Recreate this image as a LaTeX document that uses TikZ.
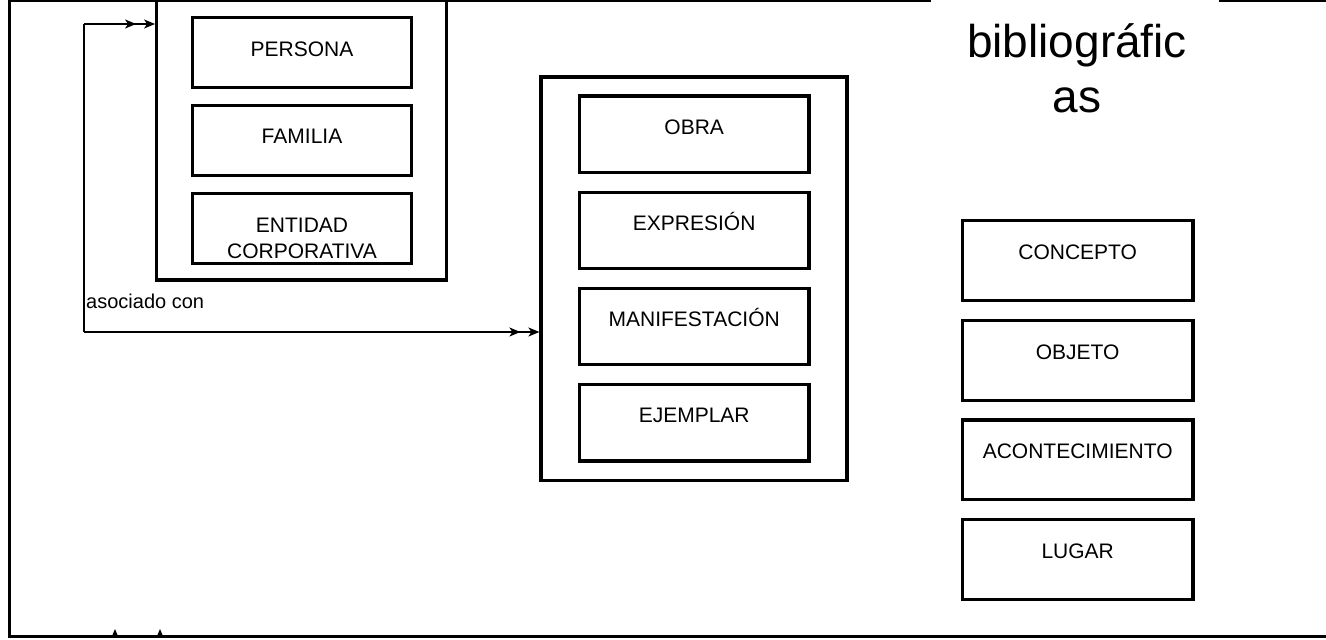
\documentclass[tikz,border=0pt]{standalone}
\usepackage{fontspec}
\setmainfont{Liberation Sans}
\usetikzlibrary{arrows.meta}
\begin{document}
\begin{tikzpicture}[x=1pt,y=-1pt,
  marco/.style={line width=3pt},
  grupo/.style={draw, line width=3.2pt, inner sep=0pt},
  entidad/.style={draw, line width=3.2pt, inner sep=0pt, label={[etiqueta]north:#1}},
  etiqueta/.style={anchor=base, yshift=-40pt, align=center, inner sep=0pt,
    font=\fontsize{21}{26}\selectfont},
  dos lineas/.style={label={[etiqueta, yshift=-26pt]north:#1}},
  izq/.style={draw, line width=3.2pt, inner sep=0pt, minimum width=219pt, minimum height=70pt},
  cen/.style={entidad=#1, minimum width=229.5pt, minimum height=76.5pt},
  der/.style={entidad=#1, minimum width=230.7pt, minimum height=79.5pt},
  enlace/.style={line width=1.6pt},
  doble/.style={line width=1.6pt,
    -{Stealth[length=11pt,width=9pt,inset=3pt,sep=8pt]Stealth[length=11pt,width=9pt,inset=3pt]}},
  punta/.style={fill=black}
]
\useasboundingbox (0,0) rectangle (1326,640);
\clip (0,0) rectangle (1326,640);

% outer frame, open at the top behind the title
\draw[marco] (1340,0) -- (1219,0);
\draw[marco] (931,0) -- (9.5,0) -- (9.5,636.5) -- (1340,636.5);

% small tips resting on the bottom edge
\fill[punta] (112,636) -- (115,629) -- (118,636) -- cycle;
\fill[punta] (157,636) -- (160,629) -- (163,636) -- cycle;

% title (base anchor sits on the last line)
\node[anchor=base, align=center, inner sep=0pt,
  font=\fontsize{46}{55}\selectfont] (titulo) at (1077,112) {bibliográfic\\as};

% group 2: persons, families, corporate bodies
\node[grupo, minimum width=289.8pt, minimum height=300pt] (grupo2) at (301.6,130) {};
\node[izq, label={[etiqueta]north:PERSONA}] (persona) at (302,52.7) {};
\node[izq, label={[etiqueta]north:FAMILIA}] (familia) at (302,140.5) {};
\node[izq, dos lineas={ENTIDAD\\CORPORATIVA}] (corporativa) at (302,228.8) {};

% group 1: products of intellectual or artistic endeavour
\node[grupo, minimum width=306pt, minimum height=403.5pt] (grupo1) at (694,278.75) {};
\node[cen=OBRA] (obra) at (694.2,134.25) {};
\node[cen=EXPRESIÓN] (expresion) at (694.2,230.5) {};
\node[cen=MANIFESTACIÓN] (manifestacion) at (694.2,326.5) {};
\node[cen=EJEMPLAR] (ejemplar) at (694.2,422.75) {};

% group 3: subjects
\node[der=CONCEPTO] (concepto) at (1077.7,260.5) {};
\node[der=OBJETO] (objeto) at (1077.7,360.5) {};
\node[der=ACONTECIMIENTO] (acontecimiento) at (1077.7,459.75) {};
\node[der=LUGAR] (lugar) at (1077.7,559.5) {};

% "associated with" relationship
\coordinate (v1) at (84,24);
\coordinate (v2) at (84,332);
\draw[enlace] (v1) -- (v2);
\draw[doble] (v1) -- (v1 -| grupo2.west);
\draw[doble] (v2) -- (v2 -| grupo1.west);
\node[anchor=base west, inner sep=0pt, font=\fontsize{20}{24}\selectfont] (asociado) at (86,308) {asociado con};
\end{tikzpicture}
\end{document}
